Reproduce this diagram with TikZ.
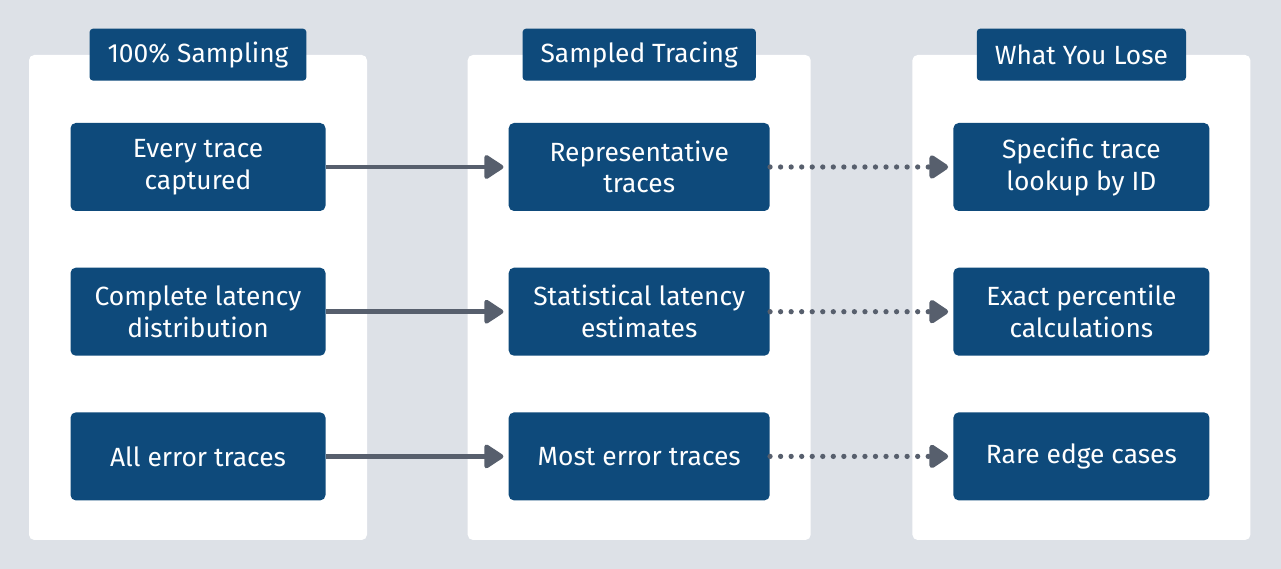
\documentclass[tikz,border=0pt]{standalone}
\usepackage{fontspec}
\setmainfont{Fira Sans}
\usetikzlibrary{positioning, arrows.meta}
\definecolor{pagebg}{HTML}{DDE1E7}
\definecolor{boxblue}{HTML}{0E4A7B}
\definecolor{linegray}{HTML}{575F6D}

\begin{document}
\begin{tikzpicture}[auto, node distance=1.12cm, >={Triangle[round, length=12pt, width=15pt]},
        panel/.style = {fill=white, rounded corners=3pt, minimum width=6.76cm, minimum height=9.7cm},
        tag/.style = {fill=boxblue, rounded corners=2pt, text=white, inner xsep=0.36cm, minimum height=1.04cm, font=\fontsize{15}{18}\selectfont},
        item/.style = {fill=boxblue, rounded corners=3pt, text=white, align=center, minimum width=5.1cm, minimum height=1.76cm, font=\fontsize{15}{18}\selectfont},
        flow/.style = {->, draw=linegray, line width=2.5pt, line join=round, shorten >=2.8pt},
        lost/.style = {flow, line width=3pt, line cap=round, dash pattern=on 0pt off 6pt},
        ]
        \fill [pagebg] (0,0) rectangle (25.62,11.38);
        \useasboundingbox (0,0) rectangle (25.62,11.38);

        \node [panel] (pa) at (3.96,5.43) {};
        \node [panel, right=2cm of pa, minimum width=6.86cm] (pb) {};
        \node [panel, right=2.02cm of pb] (pc) {};

        \node [tag] (ta) at (pa.north) {100\% Sampling};
        \node [tag] (tb) at (pb.north) {Sampled Tracing};
        \node [tag] (tc) at (pc.north) {What You Lose};

        \node [item, below=1.36cm of pa.north] (a1) {Every trace\\captured};
        \node [item, below=of a1] (a2) {Complete latency\\distribution};
        \node [item, below=of a2] (a3) {All error traces};

        \node [item, below=1.36cm of pb.north, minimum width=5.22cm] (b1) {Representative\\traces};
        \node [item, below=of b1, minimum width=5.22cm] (b2) {Statistical latency\\estimates};
        \node [item, below=of b2, minimum width=5.22cm] (b3) {Most error traces};

        \node [item, below=1.36cm of pc.north, minimum width=5.12cm] (c1) {Specific trace\\lookup by ID};
        \node [item, below=of c1, minimum width=5.12cm] (c2) {Exact percentile\\calculations};
        \node [item, below=of c2, minimum width=5.12cm] (c3) {Rare edge cases};

        \draw [flow] (a1) -- (b1);
        \draw [flow] (a2) -- (b2);
        \draw [flow] (a3) -- (b3);
        \draw [lost] (b1) -- (c1);
        \draw [lost] (b2) -- (c2);
        \draw [lost] (b3) -- (c3);

    \end{tikzpicture}
\end{document}
